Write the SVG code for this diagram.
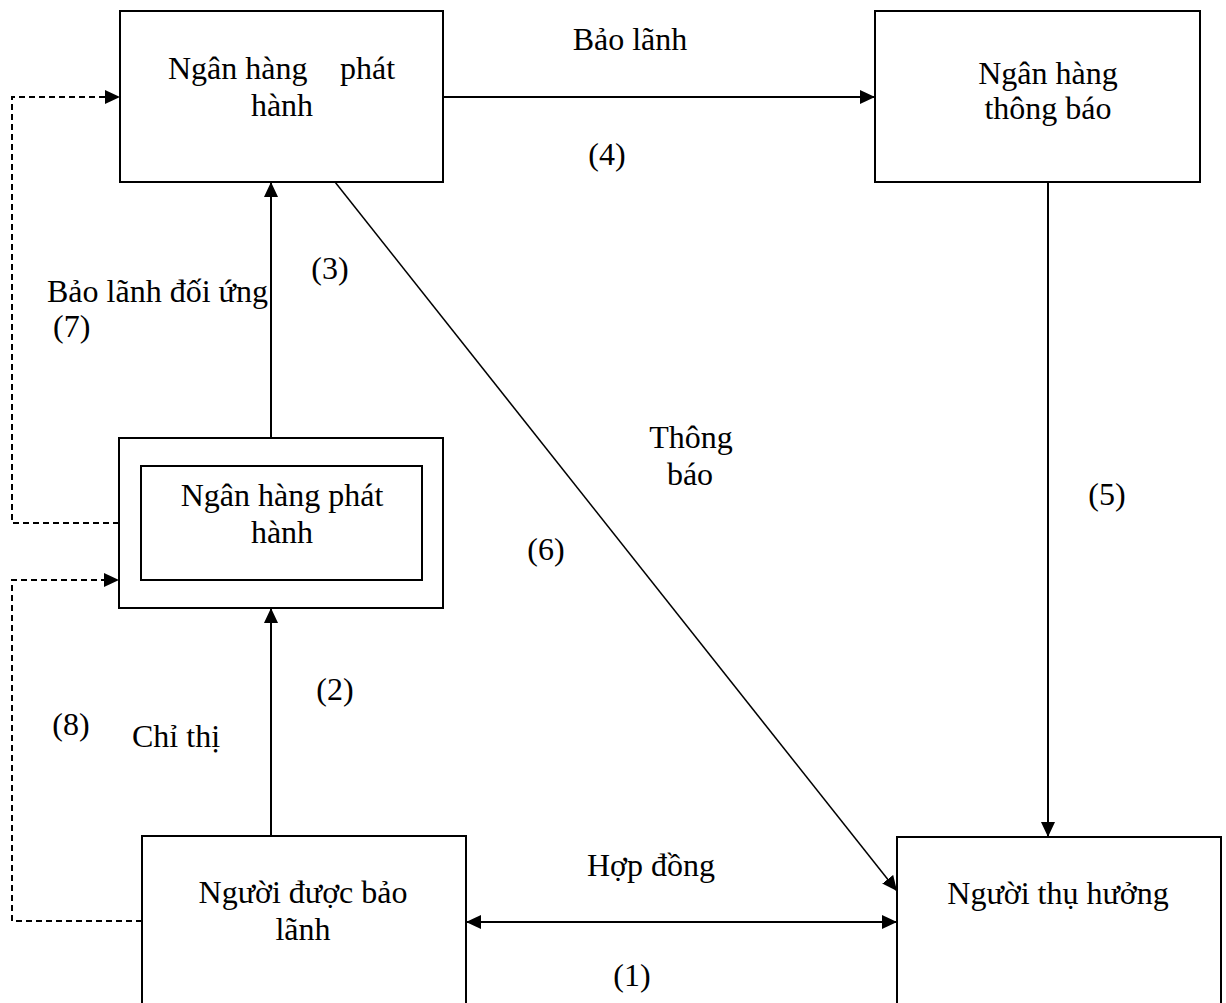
<svg xmlns="http://www.w3.org/2000/svg" width="1226" height="1003" viewBox="0 0 1226 1003">
<style>
  .box { fill: #ffffff; stroke: #000000; stroke-width: 2; }
  .t { font-family: "Liberation Serif", "Times New Roman", serif; font-size: 32px; fill: #000000; }
  .m { text-anchor: middle; }
  .ln { fill: none; stroke: #000000; stroke-width: 2; }
  .diag { fill: none; stroke: #000000; stroke-width: 1.5; }
  .dash { fill: none; stroke: #000000; stroke-width: 2; stroke-dasharray: 6 4; }
</style>
<defs>
  <marker id="ah" markerUnits="userSpaceOnUse" markerWidth="16" markerHeight="15" refX="15" refY="7" orient="auto-start-reverse" viewBox="0 0 16 14">
    <path d="M0,0 L15,7 L0,14 z" fill="#000000"/>
  </marker>
</defs>
<rect width="1226" height="1003" fill="#ffffff"/>

<g id="connectors">
  <line class="ln" x1="443" y1="97" x2="875" y2="97" marker-end="url(#ah)"/>
  <line class="ln" x1="1048" y1="182" x2="1048" y2="837" marker-end="url(#ah)"/>
  <line class="ln" x1="271" y1="438" x2="271" y2="182" marker-end="url(#ah)"/>
  <line class="ln" x1="271" y1="836" x2="271" y2="608" marker-end="url(#ah)"/>
  <line class="diag" x1="335" y1="182" x2="897" y2="891" marker-end="url(#ah)"/>
  <line class="ln" x1="466" y1="922" x2="897" y2="922" marker-start="url(#ah)" marker-end="url(#ah)"/>
  <polyline class="dash" points="119,523 12,523 12,97 120,97" marker-end="url(#ah)"/>
  <polyline class="dash" points="142,921 12,921 12,580 119,580" marker-end="url(#ah)"/>
  <text class="t m" x="630" y="50">Bảo lãnh</text>
  <text class="t m" x="607" y="165">(4)</text>
  <text class="t m" x="330" y="279">(3)</text>
  <text class="t" x="47" y="302">Bảo lãnh đối ứng</text>
  <text class="t" x="53" y="337">(7)</text>
  <text class="t m" x="691" y="448">Thông</text>
  <text class="t m" x="690" y="485">báo</text>
  <text class="t m" x="546" y="560">(6)</text>
  <text class="t m" x="1107" y="505">(5)</text>
  <text class="t m" x="335" y="700">(2)</text>
  <text class="t m" x="71" y="735">(8)</text>
  <text class="t" x="132" y="747">Chỉ thị</text>
  <text class="t m" x="651" y="876">Hợp đồng</text>
  <text class="t m" x="632" y="986">(1)</text>
</g>

<g id="issuing-bank">
  <rect class="box" x="120" y="11" width="323" height="171"/>
  <text class="t" x="168" y="79">Ngân hàng</text>
  <text class="t" x="340" y="79">phát</text>
  <text class="t m" x="282" y="116">hành</text>
</g>

<g id="advising-bank">
  <rect class="box" x="875" y="11" width="325" height="171"/>
  <text class="t m" x="1048" y="84">Ngân hàng</text>
  <text class="t m" x="1048" y="119">thông báo</text>
</g>

<g id="counter-bank">
  <rect class="box" x="119" y="438" width="324" height="170"/>
  <rect class="box" x="141" y="466" width="281" height="114"/>
  <text class="t m" x="282" y="506">Ngân hàng phát</text>
  <text class="t m" x="282" y="543">hành</text>
</g>

<g id="applicant">
  <rect class="box" x="142" y="836" width="324" height="180"/>
  <text class="t m" x="303" y="903">Người được bảo</text>
  <text class="t m" x="303" y="940">lãnh</text>
</g>

<g id="beneficiary">
  <rect class="box" x="897" y="837" width="324" height="180"/>
  <text class="t m" x="1058" y="904">Người thụ hưởng</text>
</g>
</svg>
